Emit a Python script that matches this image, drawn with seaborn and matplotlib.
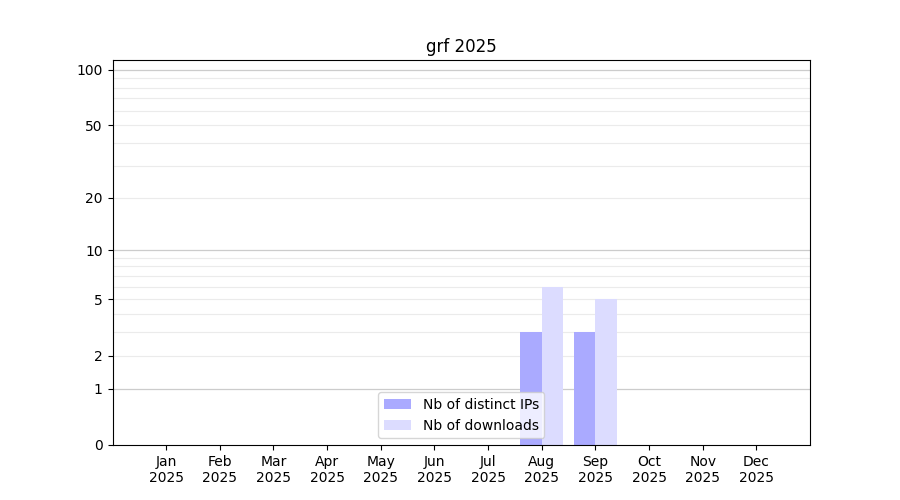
import numpy as np
import pandas as pd
import matplotlib
matplotlib.use("Agg")
import matplotlib.pyplot as plt
import seaborn as sns

months = ['Jan', 'Feb', 'Mar', 'Apr', 'May', 'Jun',
          'Jul', 'Aug', 'Sep', 'Oct', 'Nov', 'Dec']
year = '2025'
distinct_ips = [0, 0, 0, 0, 0, 0, 0, 3, 3, 0, 0, 0]
downloads = [0, 0, 0, 0, 0, 0, 0, 6, 5, 0, 0, 0]
ytick_vals = [0, 1, 2, 5, 10, 20, 50, 100]

labels = [m + '\n' + year for m in months]
df = pd.DataFrame({
    'month': labels * 2,
    'count': distinct_ips + downloads,
    'series': ['Nb of distinct IPs'] * 12 + ['Nb of downloads'] * 12,
})

fig, ax = plt.subplots(figsize=(9, 5), dpi=100)

# log(1+y) scale so zero still shows
ax.set_yscale('function', functions=(lambda y: np.log10(1 + np.clip(y, 0, None)),
                                     lambda v: 10 ** v - 1))

sns.barplot(data=df, x='month', y='count', hue='series', ax=ax,
            palette=[(170/255, 170/255, 1.0), (220/255, 220/255, 1.0)],
            linewidth=0, errorbar=None, saturation=1)

ax.set_ylim(0, 113)
ax.set_xlim(-1, 12)
ax.set_yticks(ytick_vals)
ax.set_yticklabels([str(v) for v in ytick_vals])
minor = [2, 3, 4, 5, 6, 7, 8, 9, 20, 30, 40, 50, 60, 70, 80, 90]
ax.yaxis.remove_overlapping_locs = False
ax.set_yticks(minor, minor=True)
ax.tick_params(axis='y', which='minor', length=0)
ax.yaxis.grid(True, which='minor', color='#ebebeb', linewidth=0.8)
for v in [1, 10, 100]:
    ax.axhline(v, color='#cccccc', linewidth=0.9, zorder=0.5)
ax.set_axisbelow(True)

ax.set_xlabel('')
ax.set_ylabel('')
ax.set_title('grf ' + year)
sns.move_legend(ax, 'lower center', title=None)

plt.savefig('out.png')
